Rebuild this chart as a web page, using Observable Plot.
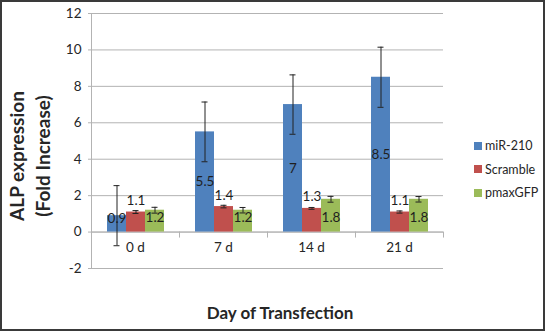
<!DOCTYPE html>
<html>
<head>
<meta charset="utf-8">
<script src="https://cdn.jsdelivr.net/npm/d3@7"></script>
<script src="https://cdn.jsdelivr.net/npm/@observablehq/plot@0.6"></script>
<style>
  html, body { margin: 0; padding: 0; background: #fff; }
  #wrap { position: relative; width: 545px; height: 331px; overflow: hidden; font-family: Lato, "Open Sans", sans-serif; }
  #wrap svg { position: absolute; left: 0; top: 0; }
  #border { position: absolute; left: 0; top: 0; width: 545px; height: 331px; box-sizing: border-box; border: 2px solid #3a3a3a; pointer-events: none; }
  .ytitle { position: absolute; left: 30px; top: 156px; transform: translate(-50%, -50%) rotate(-90deg); font-weight: bold; font-size: 19px; line-height: 26px; color: #262626; text-align: center; white-space: nowrap; }
  .xtitle { position: absolute; left: 280px; top: 312px; transform: translate(-50%, -50%); font-weight: bold; font-size: 17px; color: #262626; white-space: nowrap; }
  .legend { position: absolute; left: 474px; top: 134px; font-size: 12.5px; color: #262626; }
  .legend div { display: flex; align-items: center; height: 23.5px; }
  .legend span.sw { display: inline-block; width: 8px; height: 8px; margin-right: 3px; }
</style>
</head>
<body>
<div id="wrap"></div>
<script>
// ---- data ----
const categories = ["0 d", "7 d", "14 d", "21 d"];
const series = ["miR-210", "Scramble", "pmaxGFP"];
const colors = ["#4F81BD", "#C0504D", "#9BBB59"];
const mir210 = [0.9, 5.5, 7, 8.5];
const mir210Err = [1.65, 1.64, 1.63, 1.65];
const scramble = [1.1, 1.4, 1.3, 1.1];
const scrambleErr = [0.08, 0.07, 0.05, 0.06];
const pmaxGFP = [1.2, 1.2, 1.8, 1.8];
const pmaxGFPErr = [0.16, 0.15, 0.16, 0.15];
const yTicks = [-2, 0, 2, 4, 6, 8, 10, 12];

// ---- build table ----
const values = [mir210, scramble, pmaxGFP];
const errs = [mir210Err, scrambleErr, pmaxGFPErr];
const rows = [];
series.forEach((s, si) => categories.forEach((c, ci) => {
  rows.push({cat: c, series: s, value: values[si][ci], err: errs[si][ci]});
}));

// ---- layout ----
const W = 545, H = 331, mt = 13, mb = 63, ml = 91, mr = 102;
const ih = H - mt - mb;
const yDom = [-2, 12];
const y0px = ih * (yDom[1] - 0) / (yDom[1] - yDom[0]);
const gridColor = "#b3b3b3";
const textColor = "#262626";

// label positions per series
const labelY = d => d.series === "miR-210" ? Math.max(d.value / 2, 0.75)
  : d.series === "Scramble" ? d.value + 0.62
  : 0.78;

const chart = Plot.plot({
  width: W, height: H,
  marginTop: mt, marginBottom: mb, marginLeft: ml, marginRight: mr,
  style: {fontFamily: "Lato, 'Open Sans', sans-serif", fontSize: "13px", color: textColor, background: "transparent"},
  fx: {domain: categories, padding: 0, axis: null},
  x: {domain: series, paddingInner: 0, paddingOuter: 0.75, axis: null},
  y: {domain: yDom, axis: null},
  color: {domain: series, range: colors},
  marks: [
    Plot.gridY(yTicks, {stroke: gridColor, strokeOpacity: 1, strokeWidth: 1}),
    Plot.axisY(yTicks, {tickSize: 3, tickPadding: 7, stroke: gridColor, fill: textColor, fontSize: 13.5, label: null, tickFormat: d => d < 0 ? "-" + Math.abs(d) : String(d)}),
    Plot.frame({anchor: "left", facetAnchor: "left", stroke: gridColor}),
    Plot.ruleY([0], {stroke: gridColor}),
    Plot.frame({anchor: "right", stroke: gridColor, insetTop: y0px, insetBottom: ih - y0px - 5}),
    Plot.barY(rows, {fx: "cat", x: "series", y: "value", fill: "series"}),
    Plot.ruleX(rows, {fx: "cat", x: "series", y1: d => d.value - d.err, y2: d => d.value + d.err, stroke: "#222", strokeWidth: 1}),
    Plot.tickY(rows, {fx: "cat", x: "series", y: d => d.value + d.err, stroke: "#222", insetLeft: 6.5, insetRight: 6.5}),
    Plot.tickY(rows, {fx: "cat", x: "series", y: d => d.value - d.err, stroke: "#222", insetLeft: 6.5, insetRight: 6.5}),
    Plot.text(rows, {fx: "cat", x: "series", y: labelY, text: d => String(d.value), fill: "#1f1f1f", fontSize: 13.5}),
    Plot.text(categories, {fx: d => d, y: () => 0, text: d => d, dy: 16, fill: textColor, fontSize: 13.5})
  ]
});

const wrap = document.getElementById("wrap");
wrap.appendChild(chart);

const yt = document.createElement("div");
yt.className = "ytitle";
yt.innerHTML = "ALP expression<br>(Fold Increase)";
wrap.appendChild(yt);

const xt = document.createElement("div");
xt.className = "xtitle";
xt.textContent = "Day of Transfection";
wrap.appendChild(xt);

const lg = document.createElement("div");
lg.className = "legend";
series.forEach((s, i) => {
  const row = document.createElement("div");
  const sw = document.createElement("span");
  sw.className = "sw";
  sw.style.background = colors[i];
  row.appendChild(sw);
  row.appendChild(document.createTextNode(s));
  lg.appendChild(row);
});
wrap.appendChild(lg);

const b = document.createElement("div");
b.id = "border";
wrap.appendChild(b);
</script>
</body>
</html>
